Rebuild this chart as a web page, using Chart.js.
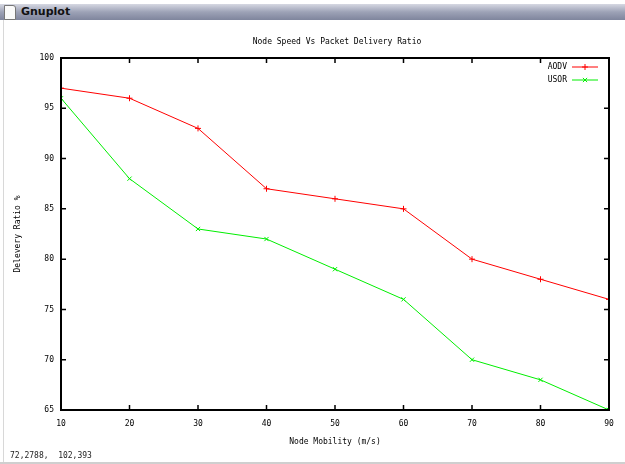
<!DOCTYPE html>
<html>
<head>
<meta charset="utf-8">
<script src="https://cdn.jsdelivr.net/npm/chart.js@4.4.1/dist/chart.umd.min.js"></script>
<style>
  body { margin: 0; background: #fff; width: 625px; height: 464px; overflow: hidden; position: relative; }
  #bar { position: absolute; left: 0; top: 4px; width: 625px; height: 16px;
         background: linear-gradient(#d6d8e2, #9da2b6 50%, #7f859d); }
  #icon { position: absolute; left: 4px; top: 1px; width: 10px; height: 13px; background: #fafafa; border: 1px solid #777; border-radius: 0 3px 0 0; }
  #bar span { position: absolute; left: 21px; top: 1px; font: bold 11px "DejaVu Sans", sans-serif; color: #111; }
  #edge { position: absolute; left: 3px; top: 20px; width: 1px; height: 442px; background: #d8d8d8; }
  #bottom { position: absolute; left: 0; top: 462px; width: 625px; height: 2px; background: #cfcfcf; }
  #status { position: absolute; left: 10px; top: 451px; font: 8px "DejaVu Sans Mono", monospace; color: #222; }
  #chart { position: absolute; left: 0; top: 0; }
</style>
</head>
<body>
<canvas id="chart" width="625" height="464"></canvas>
<div id="bar"><div id="icon"></div><span>Gnuplot</span></div>
<div id="edge"></div>
<div id="bottom"></div>
<div id="status">72,2788,&nbsp; 102,393</div>
<script>
const speeds = [10, 20, 30, 40, 50, 60, 70, 80, 90];
const aodv = [97, 96, 93, 87, 86, 85, 80, 78, 76];
const usor = [96, 88, 83, 82, 79, 76, 70, 68, 65];
const yTicks = [65, 70, 75, 80, 85, 90, 95, 100];

const FONT = { family: "'DejaVu Sans Mono', monospace", size: 8 };

// gnuplot style frame: box border, inward ticks on all four sides, title, key
const gnuplotFrame = {
  id: "gnuplotFrame",
  afterDraw(chart) {
    const { ctx, chartArea: a, scales } = chart;
    ctx.save();
    ctx.strokeStyle = "#000";
    ctx.lineWidth = 2;
    ctx.strokeRect(a.left, a.top, a.right - a.left, a.bottom - a.top);
    ctx.lineWidth = 1.5;
    ctx.beginPath();
    speeds.forEach((v) => {
      const x = scales.x.getPixelForValue(v);
      ctx.moveTo(x, a.bottom); ctx.lineTo(x, a.bottom - 5);
      ctx.moveTo(x, a.top); ctx.lineTo(x, a.top + 5);
    });
    yTicks.forEach((v) => {
      const y = scales.y.getPixelForValue(v);
      ctx.moveTo(a.left, y); ctx.lineTo(a.left + 5, y);
      ctx.moveTo(a.right, y); ctx.lineTo(a.right - 5, y);
    });
    ctx.stroke();

    ctx.fillStyle = "#000";
    ctx.font = "8px 'DejaVu Sans Mono', monospace";
    ctx.textBaseline = "middle";
    ctx.textAlign = "center";
    ctx.fillText("Node Speed Vs Packet Delivery Ratio", 337, 42);

    // key
    chart.data.datasets.forEach((ds, i) => {
      const y = 67 + i * 13;
      ctx.fillStyle = "#000";
      ctx.textAlign = "right";
      ctx.fillText(ds.label, 567, y);
      ctx.strokeStyle = ds.borderColor;
      ctx.lineWidth = 1;
      ctx.beginPath();
      ctx.moveTo(572, y); ctx.lineTo(598, y);
      ctx.stroke();
      Chart.helpers.drawPoint(ctx, { pointStyle: ds.pointStyle, radius: 3, borderWidth: 1 }, 585, y);
    });
    ctx.restore();
  },
};

new Chart(document.getElementById("chart"), {
  type: "line",
  data: {
    labels: speeds,
    datasets: [
      {
        label: "AODV",
        data: aodv,
        borderColor: "#ff0000",
        backgroundColor: "#ff0000",
        borderWidth: 1,
        pointStyle: "cross",
        pointRadius: 3,
        pointBorderWidth: 1,
      },
      {
        label: "USOR",
        data: usor,
        borderColor: "#00ee00",
        backgroundColor: "#00ee00",
        borderWidth: 1,
        pointStyle: "crossRot",
        pointRadius: 3,
        pointBorderWidth: 1,
      },
    ],
  },
  options: {
    responsive: false,
    animation: false,
    layout: { padding: { top: 58, right: 16, left: 11, bottom: 17 } },
    plugins: { legend: { display: false }, tooltip: { enabled: false } },
    scales: {
      x: {
        type: "linear",
        min: 10,
        max: 90,
        afterFit: (s) => { s.height = 37; },
        afterBuildTicks: (s) => { s.ticks = speeds.map((v) => ({ value: v })); },
        grid: { display: false, drawTicks: false },
        border: { display: false },
        ticks: { color: "#000", font: FONT, padding: 9, maxRotation: 0 },
        title: { display: true, text: "Node Mobility (m/s)", color: "#000", font: FONT, padding: 0 },
      },
      y: {
        min: 65,
        max: 100,
        afterFit: (s) => { s.width = 50; },
        afterBuildTicks: (s) => { s.ticks = yTicks.map((v) => ({ value: v })); },
        grid: { display: false, drawTicks: false },
        border: { display: false },
        ticks: { color: "#000", font: FONT, padding: 7 },
        title: { display: true, text: "Delevery Ratio %", color: "#000", font: FONT, padding: 2 },
      },
    },
  },
  plugins: [gnuplotFrame],
});
</script>
</body>
</html>
